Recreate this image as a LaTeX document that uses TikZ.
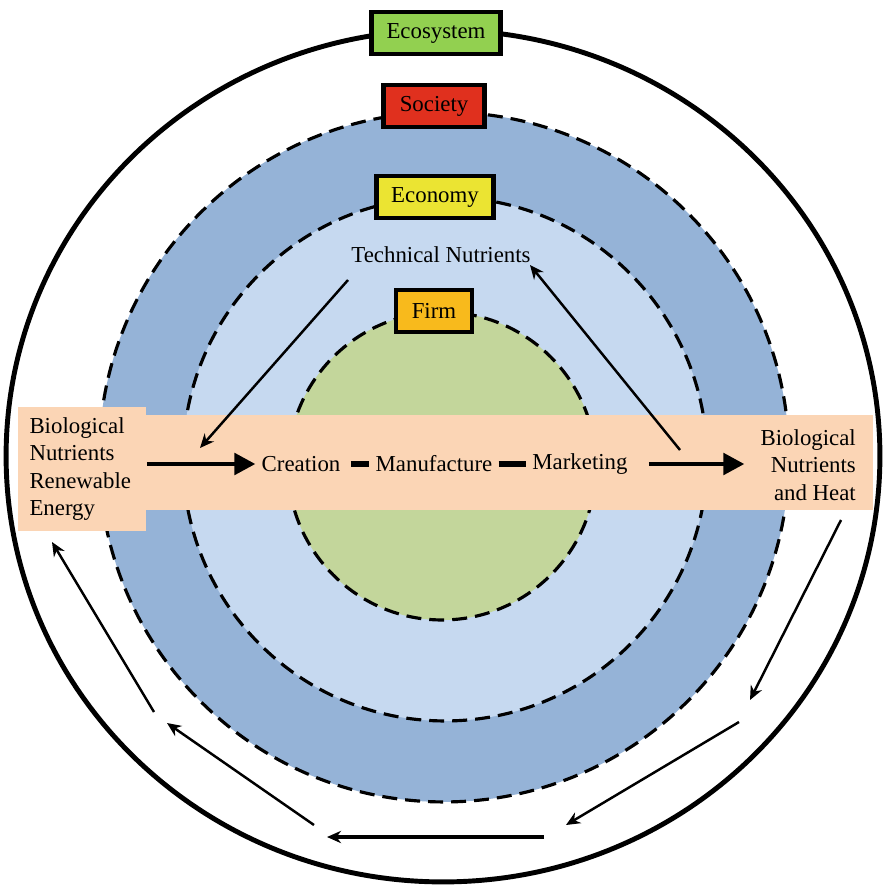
\documentclass[tikz,border=0pt]{standalone}
\usepackage{fontspec}
\setmainfont{Liberation Serif}
\usepackage{xcolor}
\usepackage{tikz}
\usetikzlibrary{arrows.meta}

\definecolor{ecogreen}{HTML}{92D050}
\definecolor{socred}{HTML}{E0301E}
\definecolor{econyellow}{HTML}{EBE432}
\definecolor{firmorange}{HTML}{F8BA1C}
\definecolor{socblue}{HTML}{95B3D7}
\definecolor{econblue}{HTML}{C6D9F0}
\definecolor{firmgreen}{HTML}{C3D69B}
\definecolor{peach}{HTML}{FBD5B5}

\tikzset{
    layerbox/.style={draw=black, line width=2.8pt, minimum height=0.84cm, inner sep=0pt},
    ring/.style={line width=1.8pt, dash pattern=on 0.3cm off 0.16cm},
    flow/.style={line width=2.8pt, -{Triangle[length=12pt, width=12pt]}},
    linkbar/.style={line width=3.4pt},
    thinarrow/.style={line width=1.4pt, -{Stealth[length=8pt, width=7pt]}}
}

\begin{document}
\begin{tikzpicture}[x=0.02cm, y=-0.02cm, font=\rmfamily\fontsize{13}{15.5}\selectfont]
    \useasboundingbox (0, 0) rectangle (885, 885);

    \filldraw[fill=white, line width=2.8pt] (443, 456) ellipse [x radius=8.74cm, y radius=8.52cm];
    \fill[socblue] (444, 457) circle [radius=6.9cm];
    \fill[econblue] (445, 459) circle [radius=5.24cm];
    \fill[firmgreen] (442, 466) circle [radius=3.08cm];
    \draw[ring] (444, 457) circle [radius=6.9cm];
    \draw[ring] (445, 459) circle [radius=5.24cm];
    \draw[ring] (442, 466) circle [radius=3.08cm];

    \fill[peach] (146, 415) rectangle (873, 510);

    \node[layerbox, fill=ecogreen, minimum width=2.58cm] (ecosystem) at (436, 33) {Ecosystem};
    \node[layerbox, fill=socred, minimum width=2.02cm] (society) at (434, 106) {Society};
    \node[layerbox, fill=econyellow, minimum width=2.34cm] (economy) at (435, 197) {Economy};
    \node[layerbox, fill=firmorange, minimum width=1.52cm] (firm) at (434, 311) {Firm};

    \node[fill=peach, align=left, text width=2.1cm, inner xsep=0.24cm, minimum height=2.48cm] (bioin) at (82, 469) {Biological\\Nutrients\\Renewable\\Energy};
    \node[align=right, anchor=east] (bioout) at (862, 465) {Biological\\Nutrients\\and Heat};

    \node (creation) at (301, 464) {Creation};
    \node (manufacture) at (434, 464) {Manufacture};
    \node (marketing) at (580, 464) {Marketing};
    \node (technical) at (441, 255) {Technical Nutrients};

    \draw[flow] (bioin.east |- creation.west) -- (creation.west);
    \draw[linkbar, shorten <=2.5pt] (creation) -- (manufacture);
    \draw[linkbar] (manufacture) -- (marketing);
    \draw[flow, shorten <=0.3cm, shorten >=0.2cm] (marketing.east) -- (bioout.west |- marketing.east);

    \coordinate (techin) at (348, 280);
    \coordinate (techinend) at (200, 448);
    \coordinate (techoutstart) at (680, 450);
    \coordinate (techout) at (530, 265);
    \draw[thinarrow] (techin) -- (techinend);
    \draw[thinarrow] (techoutstart) -- (techout);

    \coordinate (loopa) at (841, 520);
    \coordinate (loopb) at (750, 700);
    \coordinate (loopc) at (739, 722);
    \coordinate (loopd) at (566, 825);
    \coordinate (loope) at (544, 837);
    \coordinate (loopf) at (327, 837);
    \coordinate (loopg) at (314, 825);
    \coordinate (looph) at (167, 723);
    \coordinate (loopi) at (154, 712);
    \coordinate (loopj) at (52, 542);
    \draw[thinarrow] (loopa) -- (loopb);
    \draw[thinarrow] (loopc) -- (loopd);
    \draw[thinarrow, line width=2pt] (loope) -- (loopf);
    \draw[thinarrow] (loopg) -- (looph);
    \draw[thinarrow] (loopi) -- (loopj);

\end{tikzpicture}
\end{document}
